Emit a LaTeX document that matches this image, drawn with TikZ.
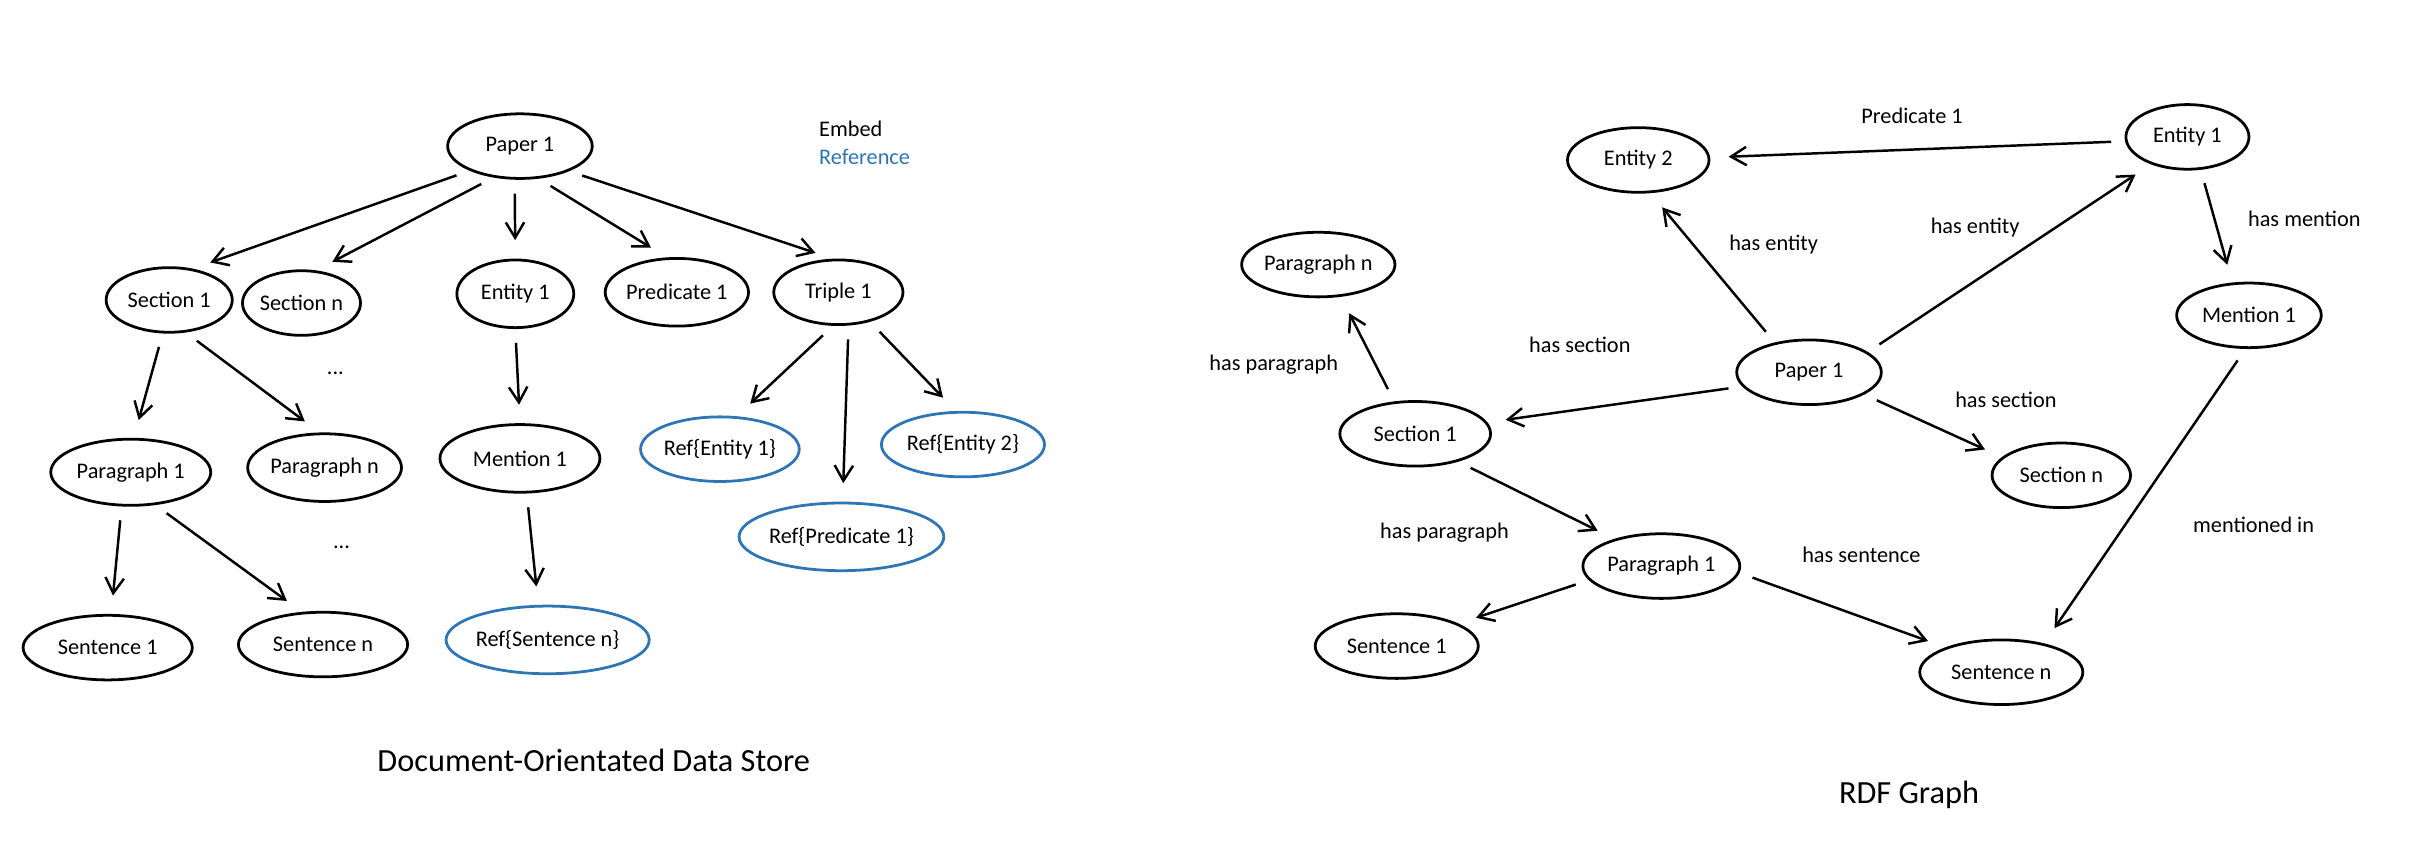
\documentclass[tikz,border=0pt]{standalone}
\usepackage{fontspec}
\setmainfont{Carlito}
\usetikzlibrary{shapes.geometric,arrows.meta}
\definecolor{refblue}{RGB}{46,117,182}
\tikzset{
  obj/.style={ellipse,draw,line width=1.8pt,inner sep=0pt,minimum height=42pt,font=\fontsize{14.5}{17}\selectfont},
  refobj/.style={obj,draw=refblue},
  arr/.style={-{Straight Barb[length=10pt,width=12pt]},line width=1.6pt,shorten <=9pt,shorten >=12pt},
  lbl/.style={font=\fontsize{14.5}{17}\selectfont},
}
\begin{document}
\begin{tikzpicture}[x=1pt,y=-1pt]
\useasboundingbox (0,0) rectangle (1568,553);
% document store
\node[obj,minimum width=94pt] (p1) at (338,95) {Paper 1};
\node[lbl,anchor=west] (embed) at (529,84) {Embed};
\node[lbl,anchor=west,text=refblue] (ref) at (529,102) {Reference};
\node[obj,minimum width=82pt] (s1) at (110,195) {Section 1};
\node[obj,minimum width=76pt] (sn) at (196,197) {Section n};
\node[obj,minimum width=76pt,minimum height=44pt] (e1) at (335,191) {Entity 1};
\node[obj,minimum width=86pt,minimum height=44pt] (pr1) at (440,190) {Predicate 1};
\node[obj,minimum width=84pt] (t1) at (545,190) {Triple 1};
\node[obj,minimum width=104pt,minimum height=43pt] (pa1) at (85,307) {Paragraph 1};
\node[obj,minimum width=100pt,minimum height=44pt] (pan) at (211,304) {Paragraph n};
\node[obj,minimum width=104pt,minimum height=44pt] (m1) at (338,298) {Mention 1};
\node[refobj,minimum width=96pt] (re1) at (468,292) {Ref\{Entity 1\}};
\node[refobj,minimum width=106pt] (re2) at (626,289) {Ref\{Entity 2\}};
\node[refobj,minimum width=126pt,minimum height=44pt] (rp1) at (547,349) {Ref\{Predicate 1\}};
\node[obj,minimum width=110pt] (se1) at (70,421) {Sentence 1};
\node[obj,minimum width=110pt] (sen) at (210,419) {Sentence n};
\node[refobj,minimum width=124pt,minimum height=44pt] (rsn) at (356,416) {Ref\{Sentence n\}};
\node[lbl] (dots1) at (218,243) {...};
\node[lbl] (dots2) at (222,356) {...};
\node[font=\fontsize{21}{25}\selectfont] (title1) at (386,494) {Document-Orientated Data Store};

\draw[arr] (p1.206) -- (s1.53);
\draw[arr] (p1.230) -- (sn.66);
\draw[arr] (p1.261) -- (e1.90);
\draw[arr] (p1.300) -- (pr1.106);
\draw[arr] (p1.333) -- (t1.99);
\draw[arr] (s1.259) -- (pa1.85);
\draw[arr] (s1.297) -- (pan.98);
\draw[arr] (e1.270) -- (m1.90);
\draw[arr] (t1.261) -- (re1.63);
\draw[arr] (t1.287) -- (rp1.88);
\draw[arr] (t1.317) -- (re2.102);
\draw[arr] (pa1.255) -- (se1.84);
\draw[arr] (pa1.307) -- (sen.123);
\draw[arr] (m1.281) -- (rsn.105);

% rdf graph
\node[obj,minimum width=92pt] (g-e2) at (1065,104) {Entity 2};
\node[obj,minimum width=80pt] (g-e1) at (1422,89) {Entity 1};
\node[obj,minimum width=94pt] (g-pan) at (857,172) {Paragraph n};
\node[obj,minimum width=94pt] (g-p1) at (1176,242) {Paper 1};
\node[obj,minimum width=94pt] (g-m1) at (1462,205) {Mention 1};
\node[obj,minimum width=98pt] (g-s1) at (920,282) {Section 1};
\node[obj,minimum width=90pt] (g-sn) at (1340,309) {Section n};
\node[obj,minimum width=102pt] (g-pa1) at (1080,368) {Paragraph 1};
\node[obj,minimum width=106pt] (g-se1) at (908,420) {Sentence 1};
\node[obj,minimum width=106pt] (g-sen) at (1301,437) {Sentence n};
\node[font=\fontsize{21}{25}\selectfont] (title2) at (1241,517) {RDF Graph};

\draw[arr] (g-e1.184) -- (g-e2.2);
\draw[arr] (g-p1.139) -- (g-e2.290);
\draw[arr] (g-p1.19) -- (g-e1.217);
\draw[arr] (g-e1.292) -- (g-m1.117);
\draw[arr] (g-p1.192) -- (g-s1.9);
\draw[arr] (g-s1.123) -- (g-pan.305);
\draw[arr] (g-p1.338) -- (g-sn.163);
\draw[arr] (g-s1.327) -- (g-pa1.150);
\draw[arr] (g-pa1.191) -- (g-se1.20);
\draw[arr] (g-pa1.355) -- (g-sen.156);
\draw[arr] (g-m1.264) -- (g-sen.34);

\node[lbl] (l-pred) at (1243,75) {Predicate 1};
\node[lbl] (l-ent2) at (1153,159) {has entity};
\node[lbl] (l-ent1) at (1284,148) {has entity};
\node[lbl] (l-ment) at (1498,142) {has mention};
\node[lbl] (l-sec1) at (1027,224) {has section};
\node[lbl] (l-parn) at (828,237) {has paragraph};
\node[lbl] (l-secn) at (1304,260) {has section};
\node[lbl] (l-par1) at (939,346) {has paragraph};
\node[lbl] (l-sent) at (1210,361) {has sentence};
\node[lbl] (l-menin) at (1465,341) {mentioned in};
\end{tikzpicture}
\end{document}
